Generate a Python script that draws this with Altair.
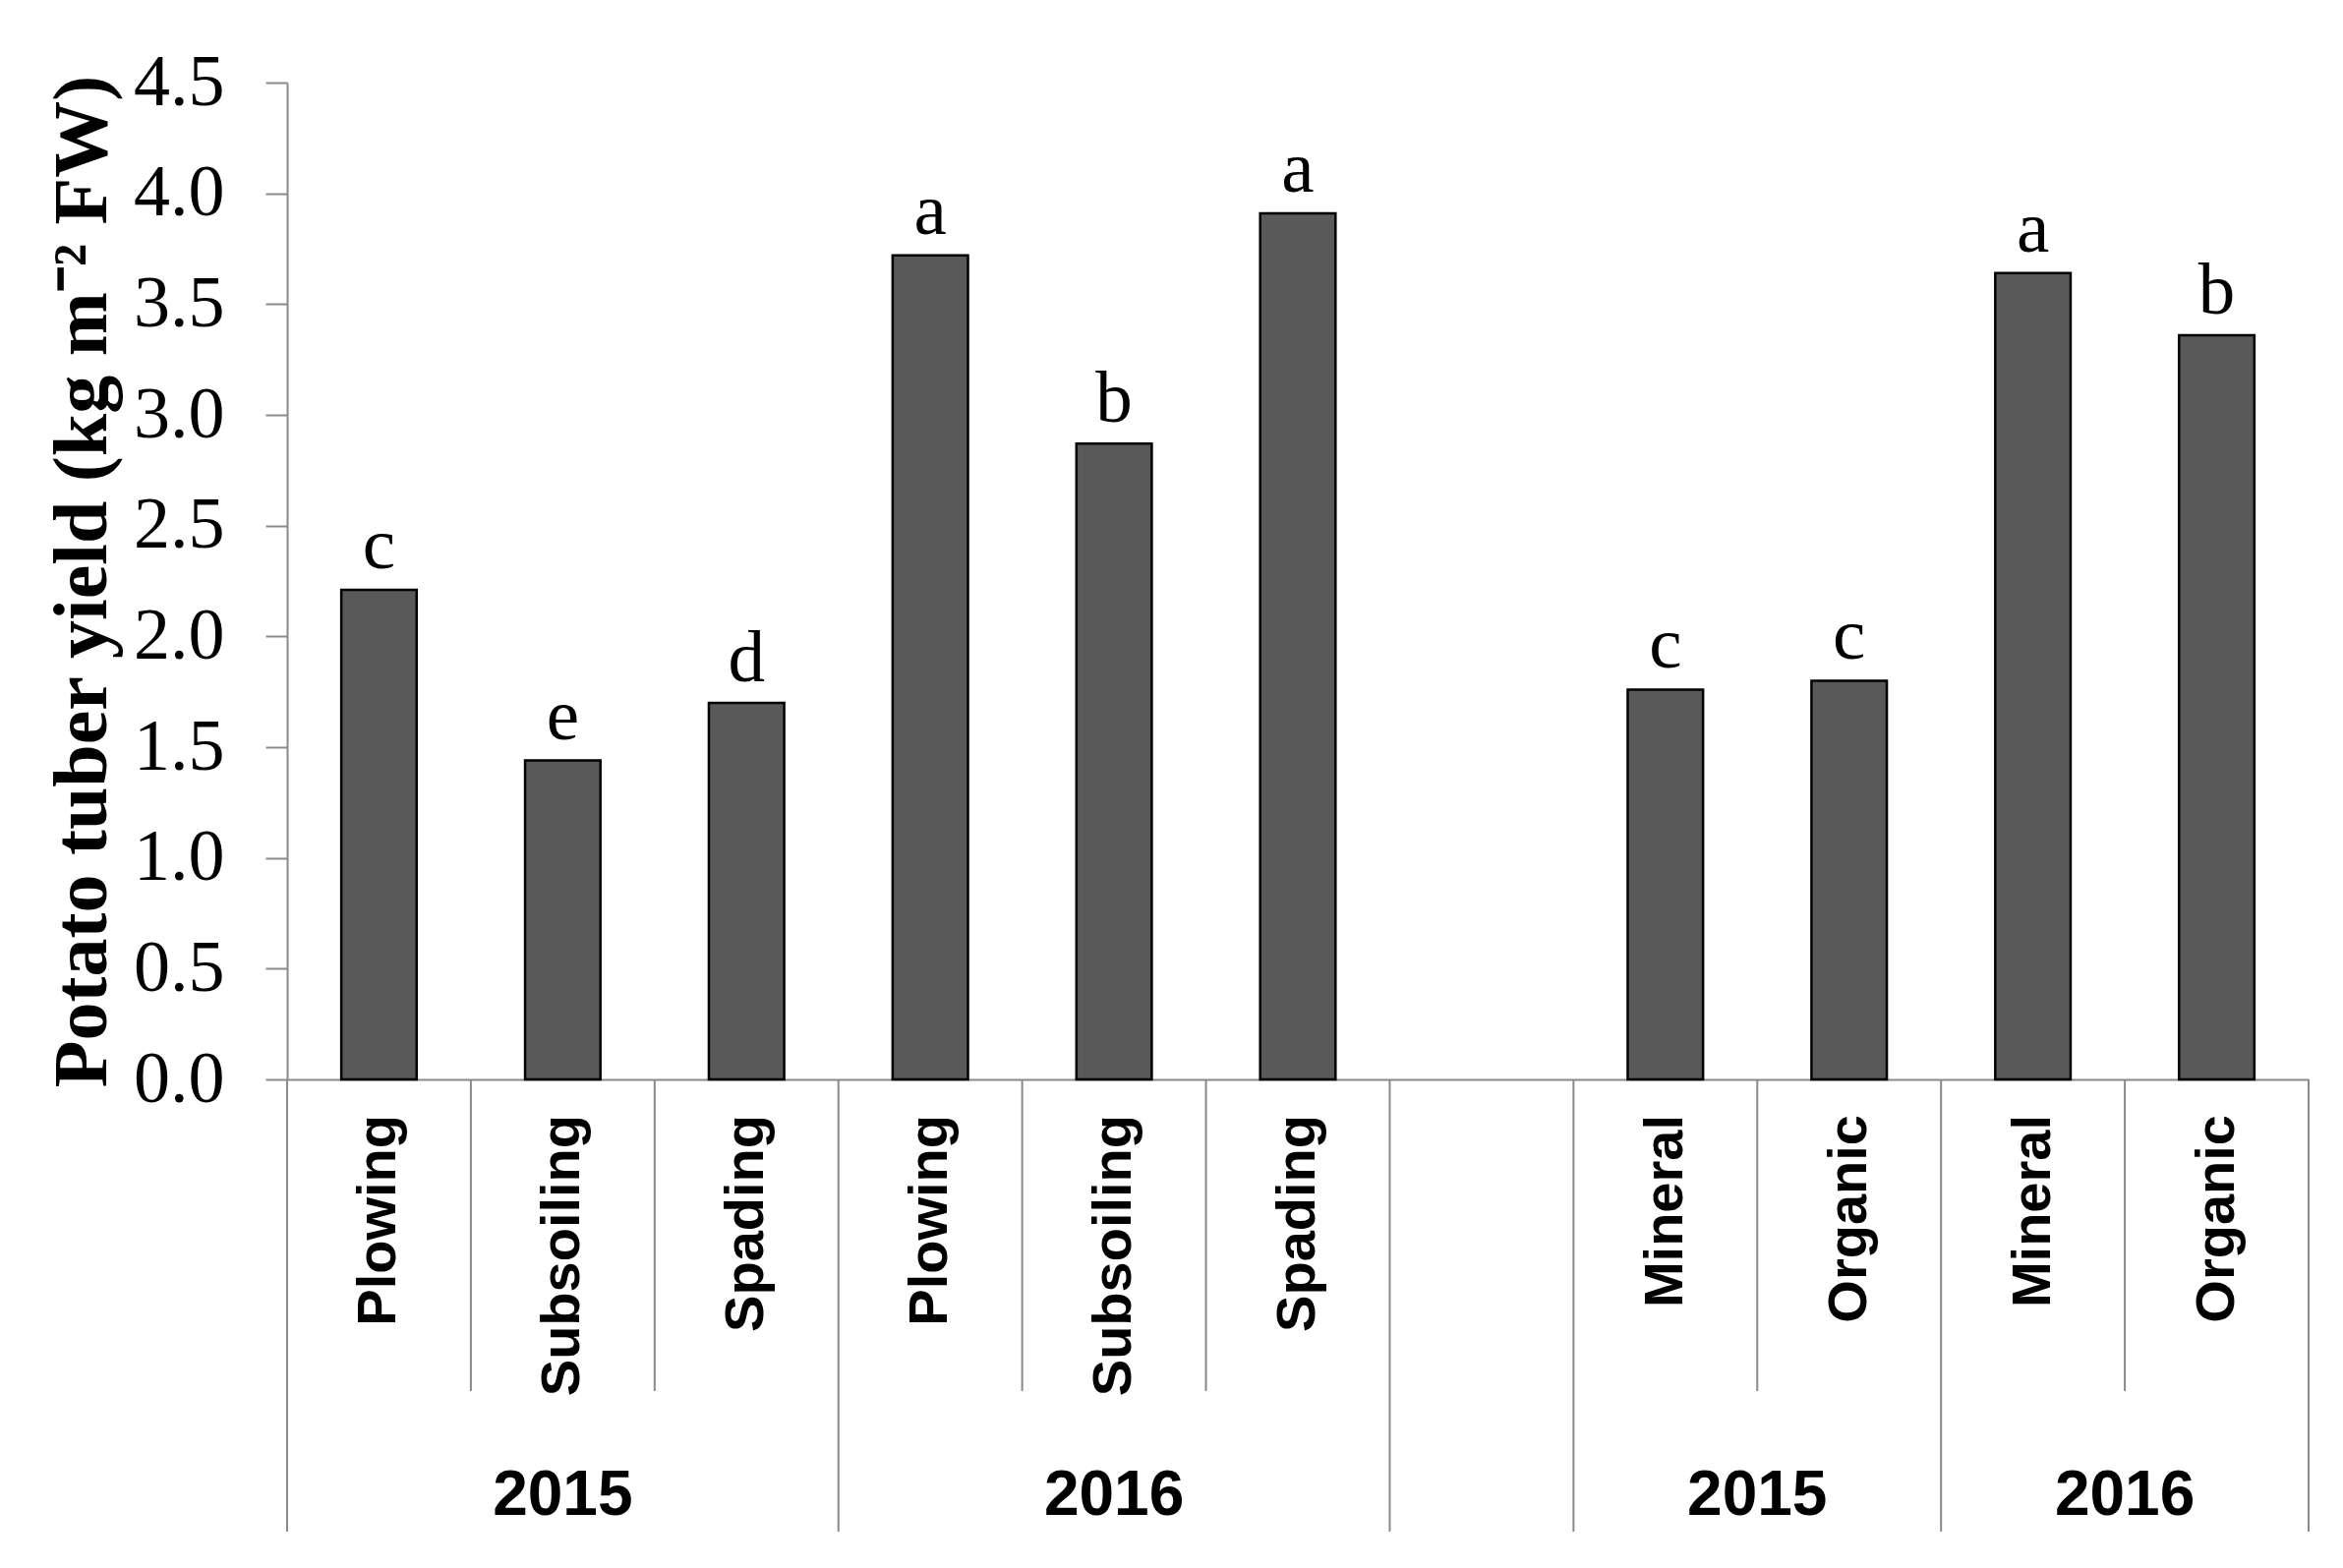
import altair as alt
import pandas as pd

# ---- data ----
categories = ["Plowing", "Subsoiling", "Spading", "Plowing", "Subsoiling", "Spading",
              "Mineral", "Organic", "Mineral", "Organic"]
years = ["2015", "2015", "2015", "2016", "2016", "2016", "2015", "2015", "2016", "2016"]
blocks = ["tillage"] * 6 + ["fertilization"] * 4
yields = [2.21, 1.44, 1.70, 3.72, 2.87, 3.91, 1.76, 1.80, 3.64, 3.36]
letters = ["c", "e", "d", "a", "b", "a", "c", "c", "a", "b"]
y_ticks = [0.0, 0.5, 1.0, 1.5, 2.0, 2.5, 3.0, 3.5, 4.0, 4.5]

# ---- layout helpers (slot index per bar; one empty slot between the two blocks) ----
slots = []
s = 0
for i, b in enumerate(blocks):
    if i > 0 and b != blocks[i - 1]:
        s += 1  # empty separating slot
    slots.append(s)
    s += 1
n_slots = s

df = pd.DataFrame({"cat": categories, "year": years, "block": blocks,
                   "yield": yields, "letter": letters, "slot": slots})
df["x0"] = df["slot"] + 0.295
df["x1"] = df["slot"] + 0.705
df["xc"] = df["slot"] + 0.5

# groups (consecutive runs of the same block+year)
groups = []
for i, row in df.iterrows():
    key = (row["block"], row["year"])
    if groups and groups[-1]["key"] == key and groups[-1]["end"] == row["slot"]:
        groups[-1]["end"] = row["slot"] + 1
    else:
        groups.append({"key": key, "year": row["year"], "start": row["slot"], "end": row["slot"] + 1})
gdf = pd.DataFrame([{"year": g["year"], "center": (g["start"] + g["end"]) / 2} for g in groups])

long_pos = sorted({g["start"] for g in groups} | {g["end"] for g in groups})
short_pos = [k for g in groups for k in range(g["start"] + 1, g["end"])]
long_df = pd.DataFrame({"pos": long_pos})
short_df = pd.DataFrame({"pos": short_pos})

W, H = 2056, 1014
GRAY = "#8a8a8a"
SERIF = "Liberation Serif, Times New Roman, serif"
SANS = "Liberation Sans, Arial, sans-serif"

xs = alt.Scale(domain=[0, n_slots], nice=False, zero=False)
ys = alt.Scale(domain=[0, 4.5], nice=False)

bars = alt.Chart(df).mark_bar(color="#595959", stroke="black", strokeWidth=2.5).encode(
    x=alt.X("x0:Q", scale=xs,
            axis=alt.Axis(labels=False, ticks=False, grid=False, domainColor=GRAY,
                          domainWidth=2, title="")),
    x2="x1:Q",
    y=alt.Y("yield:Q", scale=ys,
            axis=alt.Axis(values=y_ticks, format=".1f", grid=False,
                          title="Potato tuber yield (kg m⁻² FW)")),
    y2=alt.datum(0),
)

letter_text = alt.Chart(df).mark_text(font=SERIF, fontSize=75, baseline="alphabetic",
                                      dy=-22, color="black").encode(
    x=alt.X("xc:Q", scale=xs), y=alt.Y("yield:Q", scale=ys), text="letter:N")

cat_text = alt.Chart(df).mark_text(font=SANS, fontWeight="bold", fontSize=56, angle=270,
                                   align="right", baseline="middle", color="black").encode(
    x=alt.X("xc:Q", scale=xs), y=alt.value(H + 36), text="cat:N")

year_text = alt.Chart(gdf).mark_text(font=SANS, fontWeight="bold", fontSize=64,
                                     align="center", baseline="middle", color="black").encode(
    x=alt.X("center:Q", scale=xs), y=alt.value(H + 424), text="year:N")

short_rules = alt.Chart(short_df).mark_rule(color=GRAY, strokeWidth=2).encode(
    x=alt.X("pos:Q", scale=xs), y=alt.value(H), y2=alt.value(H + 317))

long_rules = alt.Chart(long_df).mark_rule(color=GRAY, strokeWidth=2).encode(
    x=alt.X("pos:Q", scale=xs), y=alt.value(H), y2=alt.value(H + 460))

chart = alt.layer(short_rules, long_rules, bars, letter_text, cat_text, year_text).properties(
    width=W, height=H,
    autosize=alt.AutoSizeParams(type="none"),
    padding={"left": 284, "top": 76, "right": 27, "bottom": 489},
    background="white",
).configure_view(strokeWidth=0).configure_axisY(
    labelFont=SERIF, labelFontSize=74, labelColor="black", labelPadding=42,
    tickSize=22, tickColor=GRAY, tickWidth=2, domainColor=GRAY, domainWidth=2,
    titleFont=SERIF, titleFontWeight="bold", titleFontSize=78, titleColor="black",
    titlePadding=12,
)

chart.save("out.html", embed_options={"renderer": "svg", "actions": False})
